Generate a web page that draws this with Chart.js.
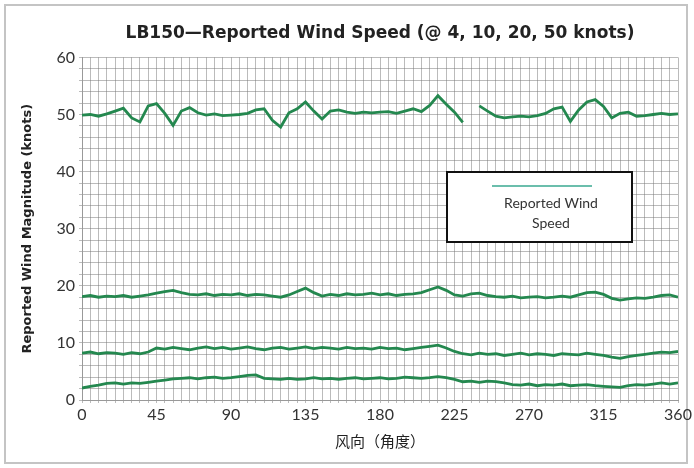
<!DOCTYPE html>
<html>
<head>
<meta charset="utf-8">
<script src="https://cdn.jsdelivr.net/npm/chart.js@4/dist/chart.umd.min.js"></script>
<style>
  body { margin: 0; background: #fff; }
  #frame { position: absolute; left: 4px; top: 4px; width: 680px; height: 456px; border: 2px solid #c4c4c4; }
  #wrap { position: absolute; left: 0; top: 0; width: 694px; height: 468px; }
</style>
</head>
<body>
<div id="frame"></div>
<div id="wrap"><canvas id="windChart" width="694" height="468"></canvas></div>
<script>
// wind direction, degrees (every 5)
const directions = [0,5,10,15,20,25,30,35,40,45,50,55,60,65,70,75,80,85,90,95,100,105,110,115,120,125,130,135,140,145,150,155,160,165,170,175,180,185,190,195,200,205,210,215,220,225,230,235,240,245,250,255,260,265,270,275,280,285,290,295,300,305,310,315,320,325,330,335,340,345,350,355,360];

// reported speed at 50 knots (null = dropout)
const speed50 = [49.9,50.0,49.7,50.1,50.6,51.1,49.4,48.7,51.5,51.9,50.2,48.1,50.6,51.2,50.3,49.9,50.1,49.8,49.9,50.0,50.2,50.8,51.0,49.0,47.8,50.3,51.0,52.2,50.6,49.2,50.6,50.8,50.4,50.2,50.4,50.3,50.4,50.5,50.2,50.6,51.0,50.5,51.6,53.3,51.8,50.4,48.6,null,51.5,50.6,49.7,49.4,49.6,49.7,49.6,49.8,50.2,51.0,51.3,48.8,50.8,52.2,52.6,51.4,49.4,50.2,50.4,49.7,49.8,50.0,50.2,50.0,50.1];
// reported speed at 20 knots
const speed20 = [18.1,18.3,18.0,18.2,18.1,18.3,18.0,18.2,18.4,18.7,19.0,19.2,18.8,18.5,18.4,18.6,18.3,18.5,18.4,18.6,18.3,18.5,18.4,18.2,18.0,18.4,19.0,19.6,18.8,18.2,18.5,18.3,18.6,18.4,18.5,18.7,18.4,18.6,18.3,18.5,18.6,18.8,19.3,19.8,19.2,18.4,18.2,18.6,18.7,18.3,18.1,18.0,18.2,17.9,18.0,18.1,17.9,18.0,18.2,18.0,18.4,18.8,18.9,18.5,17.8,17.5,17.7,17.9,17.8,18.0,18.3,18.4,18.0];
// reported speed at 10 knots
const speed10 = [8.2,8.4,8.1,8.3,8.2,8.0,8.3,8.1,8.4,9.1,8.9,9.2,9.0,8.8,9.1,9.3,9.0,9.2,8.9,9.1,9.3,9.0,8.8,9.1,9.2,8.9,9.1,9.3,9.0,9.2,9.1,8.9,9.2,9.0,9.1,8.9,9.2,9.0,9.1,8.8,9.0,9.2,9.4,9.6,9.1,8.5,8.1,7.9,8.2,8.0,8.1,7.8,8.0,8.2,7.9,8.1,8.0,7.8,8.1,8.0,7.9,8.2,8.0,7.8,7.5,7.3,7.6,7.8,8.0,8.2,8.4,8.3,8.5];
// reported speed at 4 knots
const speed4 = [2.1,2.4,2.6,2.9,3.0,2.8,3.0,2.9,3.1,3.3,3.5,3.7,3.8,3.9,3.7,3.9,4.0,3.8,3.9,4.1,4.3,4.4,3.8,3.7,3.6,3.8,3.6,3.7,3.9,3.7,3.8,3.6,3.8,3.9,3.7,3.8,3.9,3.7,3.8,4.0,3.9,3.8,3.9,4.1,3.9,3.6,3.2,3.3,3.1,3.3,3.2,3.0,2.7,2.6,2.8,2.5,2.7,2.6,2.8,2.5,2.6,2.7,2.5,2.4,2.3,2.2,2.5,2.7,2.6,2.8,3.0,2.8,3.0];

const seriesList = [speed50, speed20, speed10, speed4];
const lineColor = '#24884f';

function toPoints(values) {
    return values.map(function (v, i) {
        return { x: directions[i], y: v };
    });
}

// boxed legend in the upper right of the plot
const boxLegend = {
    id: 'boxLegend',
    afterDraw: function (chart) {
        const ctx = chart.ctx;
        const x = 447, y = 172, w = 185, h = 70;
        ctx.save();
        ctx.fillStyle = '#fff';
        ctx.fillRect(x, y, w, h);
        ctx.strokeStyle = '#111';
        ctx.lineWidth = 2;
        ctx.strokeRect(x, y, w, h);
        ctx.strokeStyle = '#3aa890';
        ctx.lineWidth = 1.5;
        ctx.beginPath();
        ctx.moveTo(x + 45, y + 14);
        ctx.lineTo(x + 145, y + 14);
        ctx.stroke();
        ctx.fillStyle = '#333';
        ctx.font = '14px Lato, sans-serif';
        ctx.textAlign = 'center';
        ctx.textBaseline = 'middle';
        ctx.fillText('Reported Wind', x + 104, y + 31);
        ctx.fillText('Speed', x + 104, y + 51);
        ctx.restore();
    }
};

const ctx = document.getElementById('windChart').getContext('2d');
const windChart = new Chart(ctx, {
    type: 'line',
    data: {
        datasets: seriesList.map(function (values) {
            return {
                label: 'Reported Wind Speed',
                data: toPoints(values),
                borderColor: lineColor,
                borderWidth: 2.8,
                pointRadius: 0,
                tension: 0,
                spanGaps: false
            };
        })
    },
    options: {
        responsive: false,
        animation: false,
        layout: { padding: { left: 0, right: 16, top: 0, bottom: 6 } },
        plugins: {
            legend: { display: false },
            tooltip: { enabled: false },
            title: {
                display: true,
                fullSize: false,
                text: 'LB150\u2014Reported Wind Speed (@ 4, 10, 20, 50 knots)',
                color: '#222',
                font: { family: '"DejaVu Sans", sans-serif', size: 17, weight: 'bold' },
                padding: { top: 23, bottom: 14 }
            }
        },
        scales: {
            x: {
                type: 'linear',
                min: 0,
                max: 360,
                ticks: {
                    stepSize: 5,
                    autoSkip: false,
                    maxRotation: 0,
                    color: '#333',
                    padding: 2,
                    font: { family: 'Lato, sans-serif', size: 16 },
                    callback: function (v) { return v % 45 === 0 ? v : ''; }
                },
                grid: { color: 'rgba(120,120,120,0.5)', lineWidth: 1, tickLength: 3 },
                border: { color: '#999' },
                title: {
                    display: true,
                    text: '风向（角度）',
                    color: '#222',
                    font: { family: '"Noto Sans CJK SC", sans-serif', size: 15 },
                    padding: { top: 4, bottom: 12 }
                },
                afterFit: function (scale) { scale.height = 62; }
            },
            y: {
                min: 0,
                max: 60,
                ticks: {
                    stepSize: 2,
                    autoSkip: false,
                    color: '#333',
                    padding: 4,
                    font: { family: 'Lato, sans-serif', size: 16 },
                    callback: function (v) { return v % 10 === 0 ? v : ''; }
                },
                grid: { color: 'rgba(120,120,120,0.5)', lineWidth: 1, tickLength: 3 },
                border: { color: '#999' },
                title: {
                    display: true,
                    text: 'Reported Wind Magnitude (knots)',
                    color: '#222',
                    font: { family: '"DejaVu Sans", sans-serif', size: 13, weight: 'bold' },
                    padding: { top: 20, bottom: 8 }
                },
                afterFit: function (scale) { scale.width = 82; }
            }
        }
    },
    plugins: [boxLegend]
});
</script>
</body>
</html>
